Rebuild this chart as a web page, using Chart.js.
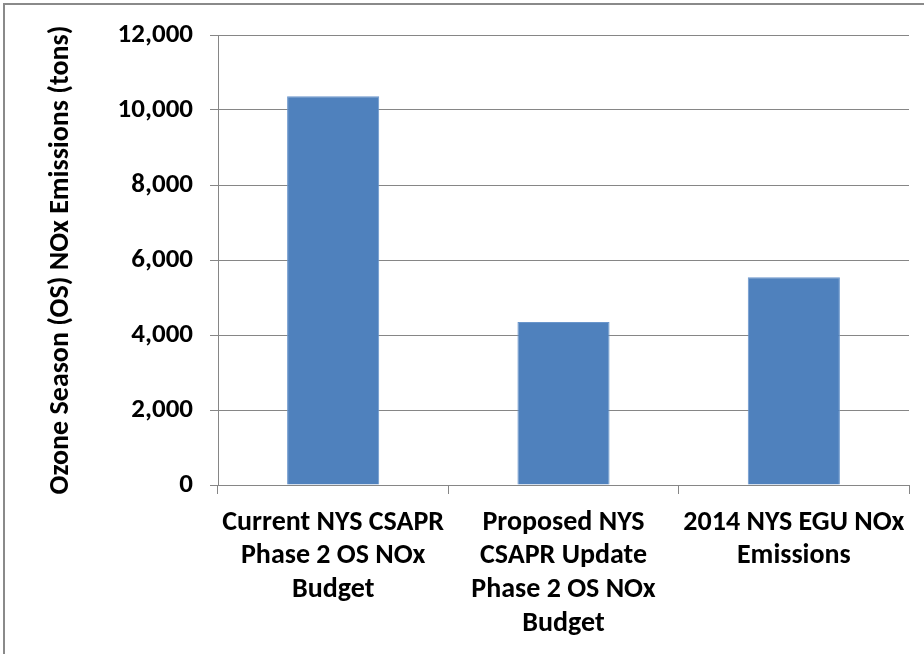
<!DOCTYPE html>
<html>
<head>
<meta charset="utf-8">
<script src="https://cdn.jsdelivr.net/npm/chart.js@4"></script>
<style>
html,body{margin:0;padding:0;background:#fff;}
#wrap{width:924px;height:654px;position:relative;}
</style>
</head>
<body>
<div id="wrap"><canvas id="c" width="924" height="654"></canvas></div>
<script>
const categories = [
  ["Current NYS CSAPR", "Phase 2 OS NOx", "Budget"],
  ["Proposed NYS", "CSAPR Update", "Phase 2 OS NOx", "Budget"],
  ["2014 NYS EGU NOx", "Emissions"]
];
const emissions = [10370, 4350, 5540];
const yTicks = [0, 2000, 4000, 6000, 8000, 10000, 12000];
const yTitle = "Ozone Season (OS) NOx Emissions (tons)";

const FONT = "'Carlito', 'Liberation Sans Narrow', 'DejaVu Sans Condensed', sans-serif";

const framePlugin = {
  id: 'frame',
  afterDraw(chart) {
    const ctx = chart.ctx;
    ctx.save();
    ctx.strokeStyle = '#8a8a8a';
    ctx.lineWidth = 2;
    ctx.beginPath();
    ctx.moveTo(4, 654);
    ctx.lineTo(4, 4);
    ctx.lineTo(924, 4);
    ctx.stroke();
    ctx.restore();
  }
};

new Chart(document.getElementById('c'), {
  type: 'bar',
  data: {
    labels: categories,
    datasets: [{
      data: emissions,
      backgroundColor: '#4F81BD',
      borderColor: '#6a96cc',
      borderWidth: 1,
      categoryPercentage: 1.0,
      barPercentage: 0.4
    }]
  },
  options: {
    responsive: false,
    animation: false,
    devicePixelRatio: 1,
    layout: { padding: { left: 40, right: 15, top: 35, bottom: 0 } },
    plugins: { legend: { display: false }, tooltip: { enabled: false } },
    scales: {
      x: {
        offset: true,
        grid: { offset: true, drawOnChartArea: false, drawTicks: true, tickLength: 9, color: '#868686', lineWidth: 1 },
        border: { color: '#868686', width: 1 },
        ticks: { color: '#000', font: { family: FONT, size: 28, weight: 'bold', lineHeight: 1.2 }, padding: 12, maxRotation: 0, autoSkip: false },
        afterFit(scale) { scale.height = 169; }
      },
      y: {
        min: 0, max: 12000,
        afterBuildTicks(scale) { scale.ticks = yTicks.map(v => ({ value: v })); },
        grid: { color: '#868686', lineWidth: 1, drawTicks: true, tickLength: 8 },
        border: { color: '#868686', width: 1 },
        ticks: {
          color: '#000', padding: 17,
          font: { family: FONT, size: 27, weight: 'bold' },
          callback: v => v.toLocaleString('en-US')
        },
        title: { display: true, text: yTitle, color: '#000', font: { family: FONT, size: 28, weight: 'bold', lineHeight: 1.2 }, padding: { top: 4, bottom: 0 } },
        afterFit(scale) { scale.width = 218 - 40; }
      }
    }
  },
  plugins: [framePlugin]
});
</script>
</body>
</html>
